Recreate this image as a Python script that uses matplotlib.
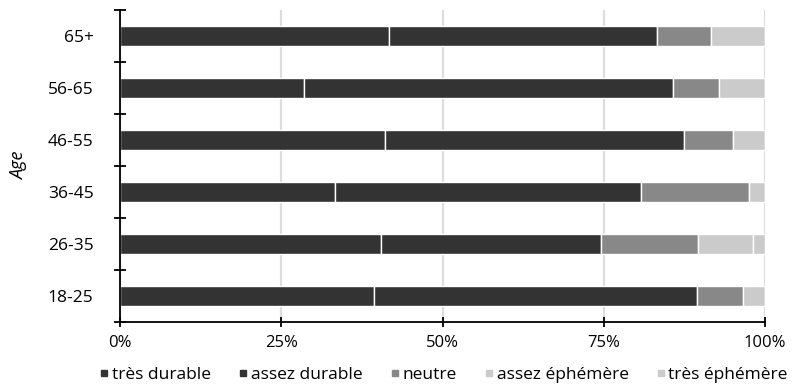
import numpy as np
import matplotlib
matplotlib.use("Agg")
import matplotlib.pyplot as plt
from matplotlib.lines import Line2D

plt.rcParams['font.family'] = ['Open Sans', 'DejaVu Sans']

ages = ['18-25', '26-35', '36-45', '46-55', '56-65', '65+']
tres_durable = [39.4, 40.4, 33.4, 41.1, 28.6, 41.7]
assez_durable = [50.1, 34.1, 47.3, 46.3, 57.1, 41.6]
neutre = [7.1, 15.1, 16.8, 7.7, 7.2, 8.4]
assez_ephemere = [3.4, 8.5, 2.5, 4.9, 7.1, 8.3]
tres_ephemere = [0, 1.9, 0, 0, 0, 0]

series = [
    ('très durable', tres_durable, '#333333'),
    ('assez durable', assez_durable, '#333333'),
    ('neutre', neutre, '#888888'),
    ('assez éphémère', assez_ephemere, '#cbcbcb'),
    ('très éphémère', tres_ephemere, '#cbcbcb'),
]

fig = plt.figure(figsize=(7.92, 3.85), dpi=100)
ax = fig.add_axes([120/792, 1 - 322/385, 645/792, 312/385])

y = np.arange(len(ages))
left = np.zeros(len(ages))
for name, vals, col in series:
    vals = np.array(vals)
    ax.barh(y, vals, left=left, height=0.39, color=col, edgecolor='white',
            linewidth=1.0, zorder=3)
    left += vals

ax.set_xlim(0, 100)
ax.set_ylim(-0.5, len(ages) - 0.5)

ax.set_xticks([0, 25, 50, 75, 100])
ax.set_xticklabels(['0%', '25%', '50%', '75%', '100%'], fontsize=12)
ax.xaxis.grid(True, color='#dddddd', linewidth=1.6, zorder=0)
ax.set_axisbelow(True)

ax.set_yticks(y)
ax.set_yticklabels(ages, fontsize=12.5)
ax.set_yticks(np.arange(-0.5, len(ages)), minor=True)
ax.tick_params(axis='y', which='major', length=0, pad=19)
ax.tick_params(axis='y', which='minor', direction='inout', length=8, width=1.3)
ax.tick_params(axis='x', direction='inout', length=7, width=1.3, pad=6)

for s in ['top', 'right']:
    ax.spines[s].set_visible(False)
for s in ['left', 'bottom']:
    ax.spines[s].set_linewidth(1.3)
    ax.spines[s].set_zorder(4)

ax.set_ylabel('Age', fontsize=13, style='italic', labelpad=14)

handles = [Line2D([], [], marker='s', linestyle='none', markersize=5,
                  markerfacecolor=c, markeredgecolor=c) for _, _, c in series]
ax.legend(handles, [n for n, _, _ in series], loc='upper center',
          bbox_to_anchor=(0.5, -0.145), ncol=5, frameon=False, fontsize=12.5,
          handletextpad=0.05, columnspacing=1.45, handlelength=0.8,
          borderaxespad=0, borderpad=0)

fig.savefig('out.png', dpi=100)
